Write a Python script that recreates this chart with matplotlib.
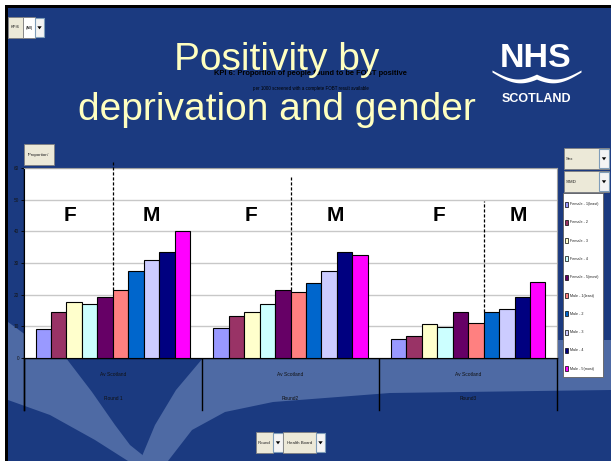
import matplotlib
matplotlib.use("Agg")
import matplotlib.pyplot as plt
import numpy as np
from matplotlib.patches import Rectangle, Polygon
from matplotlib import font_manager

# ---------------- data ----------------
rounds = ["Round 1", "Round2", "Round3"]
health_board = "Av Scotland"
series = ["Female - 1(least)", "Female - 2", "Female - 3", "Female - 4", "Female - 5(most)",
          "Male - 1(least)", "Male - 2", "Male - 3", "Male - 4", "Male - 5(most)"]
colors = ["#9999FF", "#993366", "#FFFFCC", "#CCFFFF", "#660066",
          "#FF8080", "#0066CC", "#CCCCFF", "#000080", "#FF00FF"]
round1 = [9.1, 14.5, 17.6, 17.0, 19.3, 21.5, 27.6, 30.8, 33.5, 40.1]
round2 = [9.6, 13.2, 14.4, 17.0, 21.5, 21.0, 23.7, 27.6, 33.5, 32.5]
round3 = [5.9, 6.8, 10.6, 9.9, 14.5, 10.9, 14.4, 15.4, 19.4, 24.1]
values = [round1, round2, round3]
yticks = [0, 10, 20, 30, 40, 50, 60]
# index of the first bar to the right of each F/M divider
divider_after = [5, 5, 6]
divider_top = [61.9, 57.2, 49.6]

W, H = 611, 461
BG = "#1B3A80"
LIGHT = "#4E6AA4"
FONT = "Liberation Sans"
names = {f.name for f in font_manager.fontManager.ttflist}
HAS_NARROW = "Liberation Sans Narrow" in names
NARROW = "Liberation Sans Narrow" if HAS_NARROW else FONT
NK = 1.0 if HAS_NARROW else 0.82   # size factor to match narrow widths

fig = plt.figure(figsize=(W / 100, H / 100), dpi=100)
fig.patch.set_facecolor("white")

# background axes in pixel coords
bg = fig.add_axes([0, 0, 1, 1], zorder=0)
bg.set_xlim(0, W)
bg.set_ylim(H, 0)
bg.axis("off")
bg.add_patch(Rectangle((5, 5), W, H, facecolor="black", edgecolor="none"))
bg.add_patch(Rectangle((8, 8), W, H, facecolor=BG, edgecolor="none"))

# decorative swooshes
band1 = [(8, 322), (30, 338), (66, 358), (92, 392), (115, 425), (130, 445), (150, 461),
         (128, 461), (95, 440), (50, 415), (8, 400)]
band2 = [(203, 340), (611, 340), (611, 390), (390, 393), (273, 402), (225, 412),
         (192, 430), (168, 461), (140, 461), (155, 425), (176, 390), (203, 358)]
for poly in (band1, band2):
    bg.add_patch(Polygon(poly, closed=True, facecolor=LIGHT, edgecolor="none"))

# chart title (behind slide title)
bg.text(310, 75, "KPI 6: Proportion of people found to be FOBT positive", fontsize=6.6 * NK,
        fontweight="bold", color="black", ha="center", va="baseline", family=NARROW)
bg.text(311, 90, "per 1000 screened with a complete FOBT result available", fontsize=4.0 * NK,
        color="black", ha="center", va="baseline", family=NARROW)

# category axis area
x_left, x_right, y_top, y_bot = 24, 557, 168, 358
catw = (x_right - x_left) / 3
bg.plot([x_left, x_right], [y_bot, y_bot], color="black", lw=1)
for i in range(4):
    xx = x_left + i * catw
    bg.plot([xx, xx], [y_bot, 410], color="black", lw=1)
for i, r in enumerate(rounds):
    cx = x_left + (i + 0.5) * catw
    bg.text(cx, 374, health_board, fontsize=4.3 * NK, ha="center", va="center", color="#111111", family=NARROW)
    bg.text(cx, 398, r, fontsize=4.3 * NK, ha="center", va="center", color="#111111", family=NARROW)
bg.plot([x_left, x_left], [y_top, 410], color="black", lw=1)

# ---------------- bar axes ----------------
ax = fig.add_axes([x_left / W, 1 - y_bot / H, (x_right - x_left) / W, (y_bot - y_top) / H], zorder=1)
ax.set_facecolor("white")
n = len(series)
bw = 0.087
for ri, vals in enumerate(values):
    for si, v in enumerate(vals):
        xc = ri + (si - (n - 1) / 2) * bw
        ax.bar(xc, v, width=bw, color=colors[si], edgecolor="black", linewidth=0.8, zorder=3)
    # divider
    xd = ri + (divider_after[ri] - n / 2) * bw
    ybot = max(vals[divider_after[ri] - 1], vals[divider_after[ri]])
    ax.plot([xd, xd], [ybot, divider_top[ri]], color="black", lw=0.9, ls=(0, (2.5, 1.5)),
            clip_on=False, zorder=4)
ax.set_xlim(-0.5, 2.5)
ax.set_ylim(0, 60)
ax.set_yticks(yticks)
ax.set_yticklabels([str(t) for t in yticks], fontsize=4.2 * NK, color="#151515", family=NARROW)
ax.tick_params(axis="y", length=2, width=0.6, pad=1.5)
ax.set_xticks([])
ax.grid(axis="y", color="#C8C8C8", lw=1, zorder=0)
for s in ["top", "right"]:
    ax.spines[s].set_color("#A0A0A0")
ax.spines["left"].set_color("black")
ax.spines["bottom"].set_color("black")

# F / M labels
fm_pos = [(-0.241, 0.219), (-0.223, 0.25), (-0.165, 0.28)]
for ri, (fx, mx) in enumerate(fm_pos):
    ax.text(ri + fx, 45, "F", fontsize=15, fontweight="bold", ha="center", va="center", family=FONT, zorder=5)
    ax.text(ri + mx, 45, "M", fontsize=15, fontweight="bold", ha="center", va="center", family=FONT, zorder=5)

# ---------------- overlay (pixel coords) ----------------
ov = fig.add_axes([0, 0, 1, 1], zorder=2)
ov.set_xlim(0, W)
ov.set_ylim(H, 0)
ov.axis("off")
ov.patch.set_alpha(0)

def button(x0, y0, x1, y1, text, fs=3.8, center=True):
    ov.add_patch(Rectangle((x0, y0), x1 - x0, y1 - y0, facecolor="#ECE9D8",
                           edgecolor="#808080", lw=0.6))
    ov.text((x0 + x1) / 2 if center else x0 + 2, (y0 + y1) / 2, text, fontsize=fs * NK,
            ha="center" if center else "left", va="center", color="#222222", family=NARROW)

def arrow(x0, y0, x1, y1):
    ov.add_patch(Rectangle((x0, y0), x1 - x0, y1 - y0, facecolor="#F4F4F4",
                           edgecolor="#7F9DB9", lw=0.8))
    cx, cy = (x0 + x1) / 2, (y0 + y1) / 2
    ov.add_patch(Polygon([(cx - 2.2, cy - 1.2), (cx + 2.2, cy - 1.2), (cx, cy + 1.8)],
                         facecolor="black", edgecolor="none"))

# top-left page field
button(8, 17, 23, 38, "KPI6", fs=3.6)
ov.add_patch(Rectangle((23, 17), 12, 21, facecolor="white", edgecolor="#808080", lw=0.6))
ov.text(29, 27.5, "(All)", fontsize=3.6 * NK, ha="center", va="center", family=NARROW)
arrow(35, 18, 44, 37)

# Proportion field
button(24, 144, 54, 165, "'Proportion'", fs=3.8)

# Sex / SIMD
button(564, 148, 609, 169, "Sex", center=False)
arrow(599, 149, 609, 168)
button(564, 171, 609, 192, "SIMD", center=False)
arrow(599, 172, 609, 191)

# bottom fields
button(256, 432, 273, 453, "Round", fs=3.8)
arrow(273, 433, 283, 452)
button(283, 432, 316, 453, "Health Board", fs=3.8)
arrow(316, 433, 325, 452)

# legend
ov.add_patch(Rectangle((563, 193), 40, 184, facecolor="white", edgecolor="#606060", lw=0.6))
for i, (lab, c) in enumerate(zip(series, colors)):
    yy = 204 + i * 18.3
    ov.add_patch(Rectangle((565, yy - 2.5), 3.2, 5, facecolor=c, edgecolor="black", lw=0.5))
    ov.text(570, yy, lab, fontsize=3.3 * NK, ha="left", va="center", color="#222222", family=NARROW)

# slide title
TITLE_C = "#FFFFC0"
ov.text(277, 70, "Positivity by", fontsize=28, color=TITLE_C, ha="center", va="baseline", family=FONT)
ov.text(277, 120, "deprivation and gender", fontsize=28, color=TITLE_C, ha="center", va="baseline", family=FONT)

# NHS logo
ov.text(536, 67, "NHS", fontsize=24.5, fontweight="bold", color="white", ha="center", va="baseline",
        family=FONT)
ov.text(536, 102, "SCOTLAND", fontsize=9, fontweight="bold", color="white", ha="center",
        va="baseline", family=FONT)
t = np.linspace(0, 1, 60)
top_c = 70 + 9 * np.sin(0.85 * np.pi * t)
bot_c = top_c + 2 + 3 * t
ov.fill_between(492 + t * 44.5, top_c, bot_c, color="white", lw=0)
ov.fill_between(581 - t * 44.5, top_c, bot_c, color="white", lw=0)

fig.savefig("out.png", dpi=100, facecolor=fig.get_facecolor())
